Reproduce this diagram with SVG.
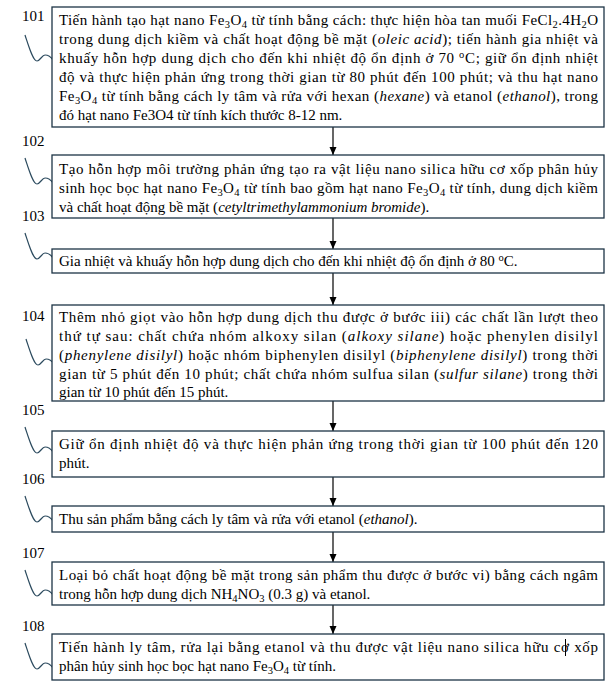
<svg xmlns="http://www.w3.org/2000/svg" width="612" height="686" viewBox="0 0 612 686">
<style>
.box{fill:#ffffff;stroke:#1d3445;stroke-width:1.3}
.t{font-family:"Liberation Serif","Times New Roman",serif;font-size:15px;fill:#000}
.lab{font-family:"Liberation Serif","Times New Roman",serif;font-size:15px;fill:#000}
.i{font-style:italic}
.s{font-size:10.5px}
.sq{fill:none;stroke:#2b4a5e;stroke-width:1.2}
.ar{stroke:#000;stroke-width:1.2;fill:none}
</style>
<defs>
<marker id="ah" markerUnits="userSpaceOnUse" markerWidth="8" markerHeight="9" viewBox="0 0 8 9" refX="8" refY="4.5" orient="auto">
<path d="M0,1 L8,4.5 L0,8 z" fill="#000"/>
</marker>
<path id="squig" d="M0,0 C4,12 8,26 12,26 C15,26 17,20 20,20 C23,20 26,22 28,25"/>
</defs>
<rect width="612" height="686" fill="#fff"/>
<g id="connectors">
<line class="ar" x1="333" y1="127" x2="333" y2="155" marker-end="url(#ah)"/>
<line class="ar" x1="333" y1="218" x2="333" y2="249" marker-end="url(#ah)"/>
<line class="ar" x1="333" y1="273" x2="333" y2="305" marker-end="url(#ah)"/>
<line class="ar" x1="333" y1="401" x2="333" y2="431" marker-end="url(#ah)"/>
<line class="ar" x1="333" y1="477" x2="333" y2="506" marker-end="url(#ah)"/>
<line class="ar" x1="333" y1="532" x2="333" y2="562" marker-end="url(#ah)"/>
<line class="ar" x1="333" y1="605" x2="333" y2="634" marker-end="url(#ah)"/>
</g>
<g id="step101">
<text class="lab" x="22" y="21">101</text>
<use href="#squig" class="sq" transform="translate(25,35)"/>
<rect class="box" x="52" y="7" width="552" height="120"/>
<text class="t" x="59" y="25" textLength="539" lengthAdjust="spacing">Tiến hành tạo hạt nano Fe<tspan class="s" dy="3">3</tspan><tspan dy="-3">O</tspan><tspan class="s" dy="3">4</tspan><tspan dy="-3"> từ tính bằng cách: thực hiện hòa tan muối FeCl</tspan><tspan class="s" dy="3">2</tspan><tspan dy="-3">.4H</tspan><tspan class="s" dy="3">2</tspan><tspan dy="-3">O</tspan></text>
<text class="t" x="59" y="44" textLength="539" lengthAdjust="spacing">trong dung dịch kiềm và chất hoạt động bề mặt (<tspan class="i">oleic acid</tspan>);  tiến hành gia nhiệt và</text>
<text class="t" x="59" y="63" textLength="539" lengthAdjust="spacing">khuấy hỗn hợp dung dịch cho đến khi nhiệt độ ổn định ở 70 <tspan class="s" dy="-5">o</tspan><tspan dy="5">C;  giữ ổn định nhiệt</tspan></text>
<text class="t" x="59" y="82" textLength="539" lengthAdjust="spacing">độ và thực hiện phản ứng trong thời gian từ 80 phút đến 100 phút; và thu hạt nano</text>
<text class="t" x="59" y="101" textLength="539" lengthAdjust="spacing">Fe<tspan class="s" dy="3">3</tspan><tspan dy="-3">O</tspan><tspan class="s" dy="3">4</tspan><tspan dy="-3"> từ tính bằng cách ly tâm và rửa với hexan (</tspan><tspan class="i">hexane</tspan>) và etanol (<tspan class="i">ethanol</tspan>), trong</text>
<text class="t" x="59" y="120">đó hạt nano Fe3O4 từ tính kích thước 8-12 nm.</text>
</g>
<g id="step102">
<text class="lab" x="22" y="146">102</text>
<use href="#squig" class="sq" transform="translate(25,158)"/>
<rect class="box" x="52" y="155" width="552" height="63"/>
<text class="t" x="59" y="174" textLength="539" lengthAdjust="spacing">Tạo hỗn hợp môi trường phản ứng tạo ra vật liệu nano silica hữu cơ xốp phân hủy</text>
<text class="t" x="59" y="193" textLength="539" lengthAdjust="spacing">sinh học bọc hạt nano Fe<tspan class="s" dy="3">3</tspan><tspan dy="-3">O</tspan><tspan class="s" dy="3">4</tspan><tspan dy="-3"> từ tính bao gồm hạt nano Fe</tspan><tspan class="s" dy="3">3</tspan><tspan dy="-3">O</tspan><tspan class="s" dy="3">4</tspan><tspan dy="-3"> từ tính, dung dịch kiềm</tspan></text>
<text class="t" x="59" y="212">và chất hoạt động bề mặt (<tspan class="i">cetyltrimethylammonium bromide</tspan>).</text>
</g>
<g id="step103">
<text class="lab" x="22" y="221">103</text>
<use href="#squig" class="sq" transform="translate(25,233)"/>
<rect class="box" x="52" y="249" width="552" height="24"/>
<text class="t" x="59" y="266">Gia nhiệt và khuấy hỗn hợp dung dịch cho đến khi nhiệt độ ổn định ở 80 <tspan class="s" dy="-5">o</tspan><tspan dy="5">C.</tspan></text>
</g>
<g id="step104">
<text class="lab" x="22" y="321">104</text>
<use href="#squig" class="sq" transform="translate(26,339)"/>
<rect class="box" x="52" y="305" width="552" height="96"/>
<text class="t" x="59" y="322" textLength="539" lengthAdjust="spacing">Thêm nhỏ giọt vào hỗn hợp dung dịch thu được ở bước iii) các chất lần lượt theo</text>
<text class="t" x="59" y="341" textLength="539" lengthAdjust="spacing">thứ tự sau: chất chứa nhóm alkoxy silan (<tspan class="i">alkoxy silane</tspan>) hoặc phenylen disilyl</text>
<text class="t" x="59" y="360" textLength="539" lengthAdjust="spacing">(<tspan class="i">phenylene disilyl</tspan>) hoặc nhóm biphenylen disilyl (<tspan class="i">biphenylene disilyl</tspan>) trong thời</text>
<text class="t" x="59" y="379" textLength="539" lengthAdjust="spacing">gian từ 5 phút đến 10 phút; chất chứa nhóm sulfua silan (<tspan class="i">sulfur silane</tspan>) trong thời</text>
<text class="t" x="59" y="397">gian từ 10 phút đến 15 phút.</text>
</g>
<g id="step105">
<text class="lab" x="22" y="415">105</text>
<use href="#squig" class="sq" transform="translate(25,427)"/>
<rect class="box" x="52" y="431" width="552" height="46"/>
<text class="t" x="59" y="449" textLength="539" lengthAdjust="spacing">Giữ ổn định nhiệt độ và thực hiện phản ứng trong thời gian từ 100 phút đến 120</text>
<text class="t" x="59" y="468">phút.</text>
</g>
<g id="step106">
<text class="lab" x="22" y="484">106</text>
<use href="#squig" class="sq" transform="translate(25,496)"/>
<rect class="box" x="52" y="506" width="552" height="26"/>
<text class="t" x="59" y="524">Thu sản phẩm bằng cách ly tâm và rửa với etanol (<tspan class="i">ethanol</tspan>).</text>
</g>
<g id="step107">
<text class="lab" x="22" y="558">107</text>
<use href="#squig" class="sq" transform="translate(25,570)"/>
<rect class="box" x="52" y="562" width="552" height="43"/>
<text class="t" x="59" y="580" textLength="539" lengthAdjust="spacing">Loại bỏ chất hoạt động bề mặt trong sản phẩm thu được ở bước vi) bằng cách ngâm</text>
<text class="t" x="59" y="599">trong hỗn hợp dung dịch NH<tspan class="s" dy="3">4</tspan><tspan dy="-3">NO</tspan><tspan class="s" dy="3">3</tspan><tspan dy="-3"> (0.3 g) và etanol.</tspan></text>
</g>
<g id="step108">
<text class="lab" x="22" y="631">108</text>
<use href="#squig" class="sq" transform="translate(25,643)"/>
<rect class="box" x="52" y="634" width="552" height="46"/>
<text class="t" x="59" y="652" textLength="539" lengthAdjust="spacing">Tiến hành ly tâm, rửa lại bằng etanol và thu được vật liệu nano silica hữu cơ xốp</text>
<line x1="565.5" y1="639" x2="565.5" y2="656" stroke="#000" stroke-width="1"/>
<text class="t" x="59" y="671">phân hủy sinh học bọc hạt nano Fe<tspan class="s" dy="3">3</tspan><tspan dy="-3">O</tspan><tspan class="s" dy="3">4</tspan><tspan dy="-3"> từ tính.</tspan></text>
</g>
</svg>
